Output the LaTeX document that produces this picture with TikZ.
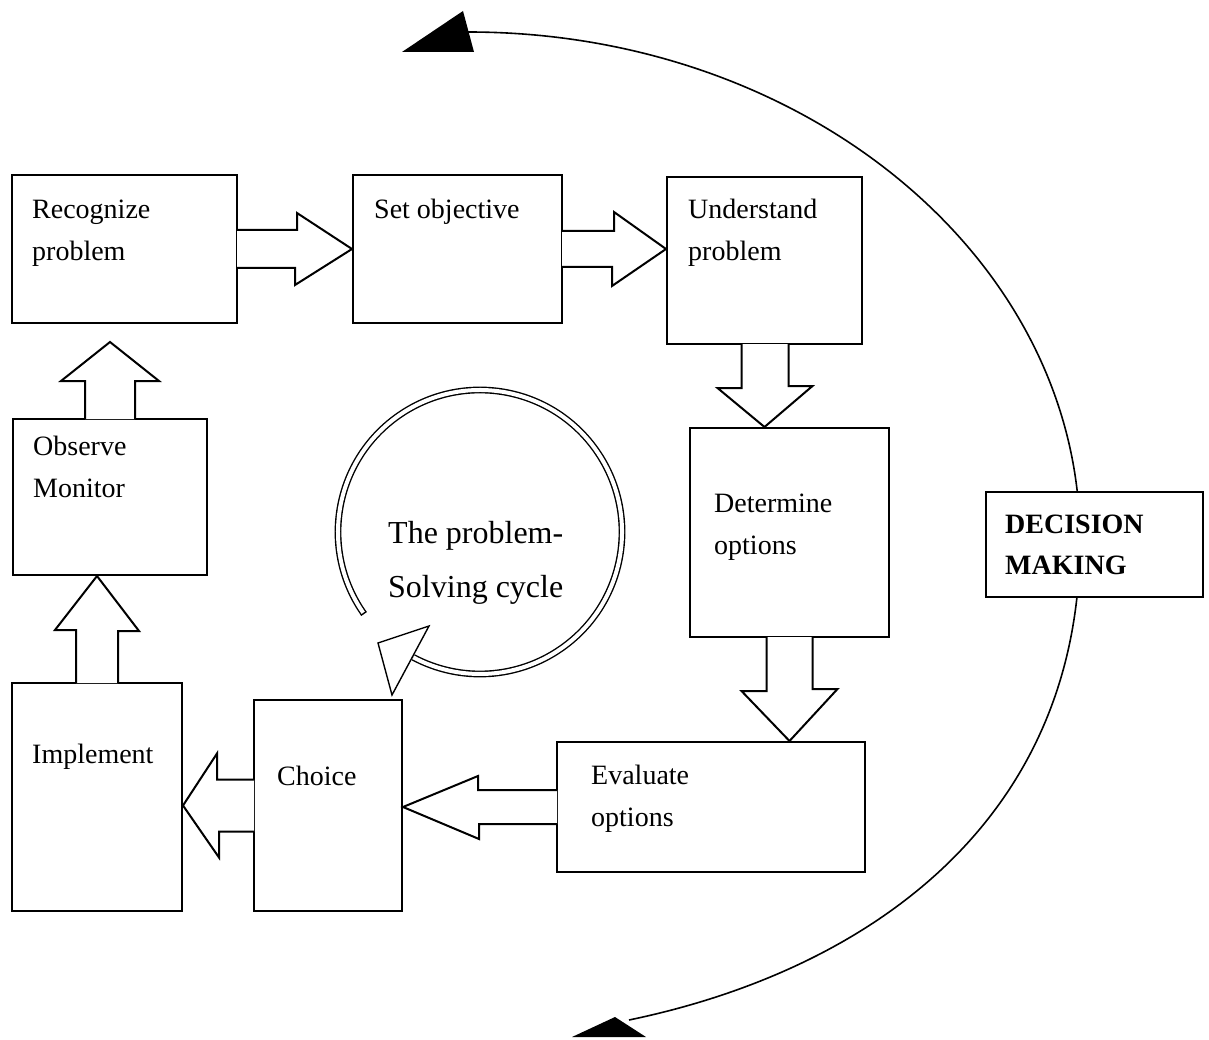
\documentclass[tikz,border=0pt]{standalone}
\usepackage{fontspec}
\setmainfont{Liberation Serif}
\usetikzlibrary{calc}

\begin{document}
\begin{tikzpicture}[x=1pt,y=1pt]
    \tikzstyle{box}=[draw=black, line width=2pt, fill=white, rectangle, inner sep=0pt]
    \tikzstyle{lbl}=[anchor=base west, inner sep=0pt, align=left, font=\fontsize{28}{42}\selectfont]
    \tikzstyle{blk}=[draw=black, fill=white, line width=2pt]
    \tikzstyle{bigcurve}=[draw=black, line width=1.6pt]
    \tikzstyle{cyc}=[double, double distance=4pt, line width=1.4pt]

    \useasboundingbox (0,0) rectangle (1209,-1040);

    % decision making curve, drawn first so the box covers it
    \draw[bigcurve] (468,-32) arc[start angle=90, end angle=0, x radius=612, y radius=508]
        .. controls (1080,-820) and (870,-970) .. (629,-1020);
    \fill (402,-52) -- (463,-11) -- (474,-52) -- cycle;
    \fill (572,-1037) -- (615,-1017) -- (646,-1037) -- cycle;

    \node[box, minimum width=225pt, minimum height=148pt] (rp) at (124.5,-249) {};
    \node[box, minimum width=209pt, minimum height=148pt] (so) at (457.5,-249) {};
    \node[box, minimum width=195pt, minimum height=167pt] (up) at (764.5,-260.5) {};
    \node[box, minimum width=199pt, minimum height=209pt] (dt) at (789.5,-532.5) {};
    \node[box, minimum width=308pt, minimum height=130pt] (ev) at (711,-807) {};
    \node[box, minimum width=148pt, minimum height=211pt] (ch) at (328,-805.5) {};
    \node[box, minimum width=170pt, minimum height=228pt] (im) at (97,-797) {};
    \node[box, minimum width=194pt, minimum height=156pt] (ob) at (110,-497) {};
    \node[box, minimum width=217pt, minimum height=105pt] (dm) at (1094.5,-544.5) {};

    % labels sit on the baseline of their last line
    \node[lbl] (rp-t) at (32,-261)  {Recognize\\problem};
    \node[lbl] (so-t) at (374,-219) {Set objective};
    \node[lbl] (up-t) at (688,-261) {Understand\\problem};
    \node[lbl] (dt-t) at (714,-554) {Determine\\options};
    \node[lbl] (ev-t) at (591,-826) {Evaluate\\options};
    \node[lbl] (ch-t) at (277,-785) {Choice};
    \node[lbl] (im-t) at (32,-763)  {Implement};
    \node[lbl] (ob-t) at (33,-497)  {Observe\\Monitor};
    \node[lbl, font=\bfseries\fontsize{28}{41}\selectfont] (dm-t) at (1005,-574) {DECISION\\MAKING};

    % block arrows between the steps
    \coordinate (obtip) at ($(ob.north)+(0,76)$);
    \filldraw[blk] ($(rp.east)+(-1,19)$) -- ++(60,0) -- ++(0,17) -- (so.west) -- ++(-57,-36) -- ++(0,17) -- ($(rp.east)+(-1,-19)$);
    \filldraw[blk] ($(so.east)+(-1,18)$) -- ++(52,0) -- ++(0,19) -- (up.west |- so.east) -- ++(-54,-37) -- ++(0,19) -- ($(so.east)+(-1,-18)$);
    \filldraw[blk] ($(up.south)+(-23,1)$) -- ++(0,-44) -- ++(-24,0) -- (up.south |- dt.north) -- ++(48,41) -- ++(-24,0) -- ($(up.south)+(24,1)$);
    \filldraw[blk] ($(dt.south)+(-23,1)$) -- ++(0,-54) -- ++(-25,0) -- (dt.south |- ev.north) -- ++(48,52) -- ++(-25,0) -- ($(dt.south)+(23,1)$);
    \filldraw[blk] ($(ev.west)+(1,17)$) -- ++(-79,0) -- ++(0,14) -- (ch.east |- ev.west) -- ++(76,-32) -- ++(0,15) -- ($(ev.west)+(1,-17)$);
    \filldraw[blk] ($(ch.west)+(1,26)$) -- ++(-37,0) -- ++(0,26) -- (im.east |- ch.west) -- ++(36,-52) -- ++(0,26) -- ($(ch.west)+(1,-26)$);
    \filldraw[blk] ($(im.north)+(-21,-1)$) -- ++(0,53) -- ++(-21,0) -- (im.north |- ob.south) -- ++(42,-55) -- ++(-21,0) -- ($(im.north)+(21,-1)$);
    \filldraw[blk] ($(ob.north)+(-25,-1)$) -- ++(0,38) -- ++(-24,0) -- (obtip) -- ++(49,-39) -- ++(-24,0) -- ($(ob.north)+(25,-1)$);

    % the cycle in the middle
    \coordinate (cc) at (480,-532);
    \draw[cyc] ($(cc)+(215:142)$) arc[start angle=215, end angle=-118, radius=142];
    \draw[line width=1.4pt] ($(cc)+(215:138.6)$) -- ($(cc)+(215:145.4)$);
    \filldraw[fill=white, line width=1.4pt] (378,-643) -- (429,-626) -- (392,-695) -- cycle;
    \node[lbl, font=\fontsize{32}{54}\selectfont] (cyc-t) at (388,-597) {The problem-\\Solving cycle};
\end{tikzpicture}
\end{document}
